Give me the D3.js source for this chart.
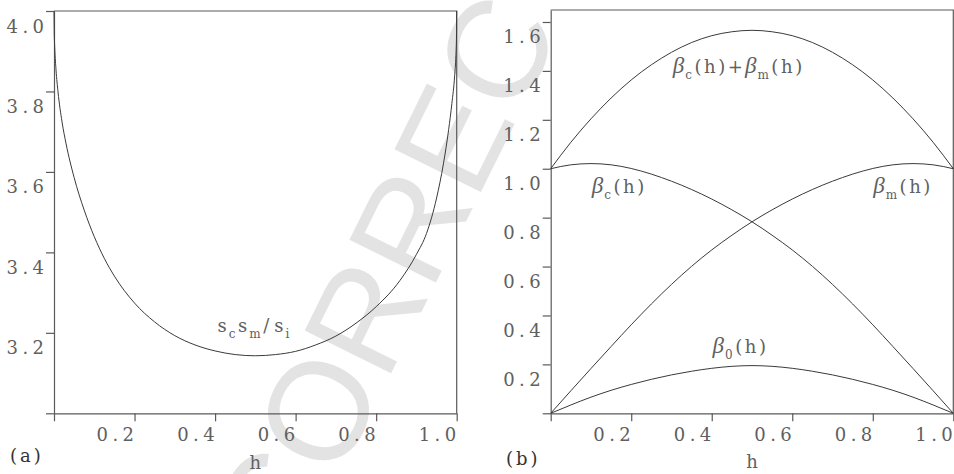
<!DOCTYPE html>
<html><head><meta charset="utf-8">
<script src="https://cdn.jsdelivr.net/npm/d3@7"></script>
<style>
html,body{margin:0;padding:0;background:#fff;}
svg{display:block;}
</style></head>
<body>
<svg id="chart" width="954" height="474"></svg>
<script>
// ---- panel (a): s_c s_m / s_i against h ----
const hA = [0, 0.0005, 0.002, 0.005, 0.01, 0.02, 0.03, 0.05, 0.075, 0.1, 0.125, 0.15, 0.2, 0.25, 0.3, 0.35, 0.4, 0.45, 0.5,
            0.55, 0.6, 0.65, 0.7, 0.75, 0.8, 0.859, 0.9, 0.925, 0.95, 0.967, 0.98, 0.988, 0.995, 0.998, 0.9995, 1.0];
const ratioA = [4.0, 3.95, 3.905, 3.854, 3.799, 3.724, 3.670, 3.586, 3.505, 3.439, 3.385, 3.341, 3.274, 3.227, 3.193, 3.170, 3.155, 3.146, 3.143,
                3.146, 3.154, 3.170, 3.192, 3.224, 3.265, 3.33, 3.395, 3.447, 3.535, 3.62, 3.705, 3.77, 3.84, 3.89, 3.94, 4.0];
const yTicksA = [3.0, 3.2, 3.4, 3.6, 3.8, 4.0];

// ---- panel (b): beta functions against h ----
const hB = [0, 0.05, 0.1, 0.15, 0.2, 0.25, 0.3, 0.35, 0.4, 0.45, 0.5, 0.55, 0.6, 0.65, 0.7, 0.75, 0.8, 0.85, 0.9, 0.95, 1.0];
const betaC = [1.000, 1.016, 1.021, 1.016, 1.001, 0.978, 0.949, 0.915, 0.876, 0.832, 0.783, 0.728, 0.668, 0.601, 0.527, 0.447, 0.362, 0.273, 0.183, 0.092, 0];
const betaM = [0, 0.092, 0.183, 0.273, 0.362, 0.447, 0.527, 0.601, 0.668, 0.728, 0.783, 0.832, 0.876, 0.915, 0.949, 0.978, 1.001, 1.016, 1.021, 1.016, 1.000];
const betaSum = [1.000, 1.108, 1.204, 1.289, 1.363, 1.425, 1.476, 1.516, 1.544, 1.560, 1.566, 1.560, 1.544, 1.516, 1.476, 1.425, 1.363, 1.289, 1.204, 1.108, 1.000];
const beta0 = [0, 0.034, 0.066, 0.094, 0.118, 0.139, 0.157, 0.172, 0.184, 0.192, 0.195, 0.192, 0.184, 0.172, 0.157, 0.139, 0.118, 0.094, 0.066, 0.034, 0];
const yTicksB = [0, 0.2, 0.4, 0.6, 0.8, 1.0, 1.2, 1.4, 1.6];

const xTicks = [0, 0.2, 0.4, 0.6, 0.8, 1.0];

const FACE = "'DejaVu Serif', 'Liberation Serif', serif";
const GREEK = "'Liberation Serif', 'Times New Roman', serif";
const AXIS = "#5a5a5a", INK = "#3a3a3a", TXT = "#606060";

// per-character gaps for a typewriter-like, widely tracked look (no trailing gap)
const track = (str, gap, first = 0) => Array.from(str).map((c, i) => i === 0 ? first : gap).join(" ");

const svg = d3.select("#chart");

// faint proof stamp running diagonally behind both panels
const wm = svg.append("text")
  .attr("font-family", "'Liberation Sans', Arial, sans-serif")
  .attr("font-size", 140).attr("fill", "#e3e3e3")
  .text("UNCORRECTED PROOF");
{
  const node = wm.node();
  const pre = node.getSubStringLength(0, 3), oW = node.getSubStringLength(3, 1);
  const ang = -63.7, th = ang * Math.PI / 180, cap = 140 * 0.716;
  const ux = Math.cos(th), uy = Math.sin(th), upx = Math.sin(th), upy = -Math.cos(th);
  const cx = 317, cy = 410;
  const bx = cx - upx * cap / 2, by = cy - upy * cap / 2;
  const sx = bx - ux * (pre + oW / 2), sy = by - uy * (pre + oW / 2);
  wm.attr("transform", `translate(${sx},${sy}) rotate(${ang})`);
}

function panel(opts) {
  const g = svg.append("g");
  const x = d3.scaleLinear().domain([0, 1]).range([opts.x0, opts.x1]);
  const y = d3.scaleLinear().domain(opts.yDomain).range([opts.yBottom, opts.yTop]);

  // frame: top and right edges
  g.append("path")
    .attr("d", `M${x(0)},${opts.yTop}H${x(1)}V${opts.yBottom}`)
    .attr("fill", "none").attr("stroke", AXIS).attr("stroke-width", 1.2);

  const fmt = v => (v === 0 || v === opts.yDomain[0]) ? "" : d3.format(".1f")(v);

  const ax = g.append("g").attr("transform", `translate(0,${opts.yBottom})`)
    .call(d3.axisBottom(x).tickValues(xTicks).tickSize(8).tickSizeOuter(0).tickFormat(v => v === 0 ? "" : d3.format(".1f")(v)));
  const ay = g.append("g").attr("transform", `translate(${opts.x0},0)`)
    .call(d3.axisLeft(y).tickValues(opts.yTicks).tickSize(8).tickSizeOuter(0).tickFormat(fmt));

  [ax, ay].forEach(a => {
    a.select(".domain").attr("stroke", AXIS).attr("stroke-width", 1.2);
    a.selectAll(".tick line").attr("stroke", AXIS).attr("stroke-width", 1.2);
    a.selectAll(".tick text").attr("fill", TXT).attr("font-family", FACE).attr("font-size", 18)
      .attr("dx", function () { return track(this.textContent, 4.4); });
  });
  ax.selectAll(".tick text").attr("text-anchor", "end").attr("x", -1).attr("y", 28).attr("dy", null);
  ay.selectAll(".tick text").attr("text-anchor", "end").attr("x", -10).attr("y", 21).attr("dy", null);

  // axis title and panel tag
  g.append("text").attr("x", (x(0) + x(1)) / 2).attr("y", opts.titleY)
    .attr("text-anchor", "middle").attr("font-family", FACE).attr("font-size", 18).attr("fill", TXT).text("h");
  g.append("text").attr("x", opts.tagX).attr("y", opts.tagY)
    .attr("font-family", FACE).attr("font-size", 18).attr("fill", "#333")
    .attr("dx", track(opts.tag, 3)).text(opts.tag);

  const line = d3.line().x(d => x(d[0])).y(d => y(d[1])).curve(d3.curveMonotoneX);
  opts.series.forEach(s => {
    g.append("path").datum(d3.zip(s.h, s.v))
      .attr("d", line).attr("fill", "none").attr("stroke", INK).attr("stroke-width", 1);
  });

  // curve captions: italic beta, small subscripts, widely tracked body text
  opts.labels.forEach(l => {
    const t = g.append("text").attr("x", x(l.at[0])).attr("y", y(l.at[1])).attr("fill", TXT)
      .attr("font-family", FACE);
    l.parts.forEach((p, i) => {
      const ts = t.append("tspan").text(p[1]);
      if (p[0] === "g") ts.attr("font-family", GREEK).attr("font-style", "italic").attr("font-size", 23)
        .attr("dx", track(p[1], 0, i === 0 ? 0 : 2));
      if (p[0] === "m") ts.attr("font-size", 18).attr("dx", track(p[1], l.gap || 2.6, 2.5));
      if (p[0] === "s") ts.attr("font-size", 12).attr("dx", track(p[1], 0, l.subGap || 1)).attr("dy", 6);
      if (p[2]) ts.attr("dy", -6);
    });
  });
}

panel({
  x0: 54, x1: 456.7, yBottom: 413.3, yTop: 11, yDomain: [3, 4], yTicks: yTicksA,
  titleY: 469, tag: "(a)", tagX: 10, tagY: 462,
  series: [{ h: hA, v: ratioA }],
  labels: [{ at: [0.40, 3.202], gap: 5, subGap: 2,
             parts: [["m", "s"], ["s", "c"], ["m", "s", 1], ["s", "m"], ["m", "/s", 1], ["s", "i"]] }]
});

panel({
  x0: 550.7, x1: 953.3, yBottom: 413.3, yTop: 10, yDomain: [0, 1.649], yTicks: yTicksB,
  titleY: 468, tag: "(b)", tagX: 506, tagY: 465,
  series: [{ h: hB, v: betaSum }, { h: hB, v: betaC }, { h: hB, v: betaM }, { h: hB, v: beta0 }],
  labels: [
    { at: [0.303, 1.39], parts: [["g", "β"], ["s", "c"], ["m", "(h)+", 1], ["g", "β"], ["s", "m"], ["m", "(h)", 1]] },
    { at: [0.102, 0.899], parts: [["g", "β"], ["s", "c"], ["m", "(h)", 1]] },
    { at: [0.801, 0.899], parts: [["g", "β"], ["s", "m"], ["m", "(h)", 1]] },
    { at: [0.402, 0.248], parts: [["g", "β"], ["s", "0"], ["m", "(h)", 1]] }
  ]
});
</script>
</body></html>
